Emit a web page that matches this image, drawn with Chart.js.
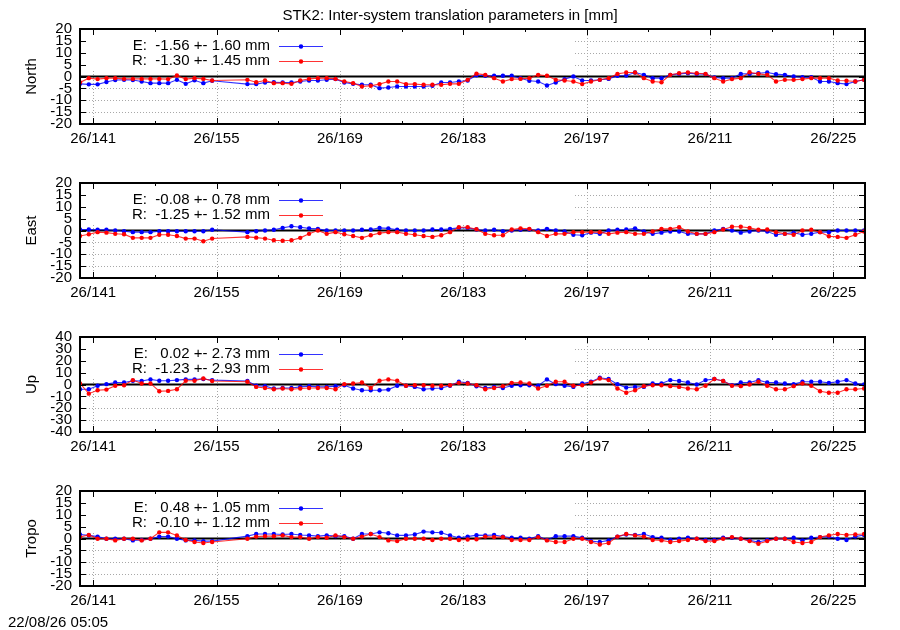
<!DOCTYPE html>
<html>
<head>
<meta charset="utf-8">
<title>STK2 inter-system translation</title>
<script src="https://cdn.jsdelivr.net/npm/chart.js@4/dist/chart.umd.min.js"></script>
<style>
  body { margin: 0; background: #fff; }
  #wrap { position: relative; width: 900px; height: 630px; background: #fff; overflow: hidden; }
  #wrap canvas { position: absolute; left: 0; }
  .txt { position: absolute; font: 15px "Liberation Sans", Arial, sans-serif; line-height: 17px; color: #000; white-space: pre; z-index: 2; }
</style>
</head>
<body>
<div id="wrap">
  <div class="txt" style="left:0; width:900px; text-align:center; top:6px">STK2: Inter-system translation parameters in [mm]</div>
  <canvas id="c0" width="900" height="154" style="top:0px"></canvas>
  <canvas id="c1" width="900" height="154" style="top:154px"></canvas>
  <canvas id="c2" width="900" height="154" style="top:308px"></canvas>
  <canvas id="c3" width="900" height="154" style="top:462px"></canvas>
  <div class="txt" style="left:8px; top:613px">22/08/26 05:05</div>
</div>
<script>
// day of year (2026), one solution per day, days 155-157 missing
const days = [139, 140, 141, 142, 143, 144, 145, 146, 147, 148, 149, 150, 151, 152, 153, 154,
  158, 159, 160, 161, 162, 163, 164, 165, 166, 167, 168, 169, 170, 171, 172, 173, 174, 175, 176, 177,
  178, 179, 180, 181, 182, 183, 184, 185, 186, 187, 188, 189, 190, 191, 192, 193, 194, 195, 196, 197,
  198, 199, 200, 201, 202, 203, 204, 205, 206, 207, 208, 209, 210, 211, 212, 213, 214, 215, 216, 217,
  218, 219, 220, 221, 222, 223, 224, 225, 226, 227, 228];

const northE = [-3.1, -3.3, -3.3, -2.3, -1.5, -1.4, -1.5, -2.1, -2.8, -2.8, -2.8, -1.4, -3.1, -1.6, -2.8, -1.8,
  -3.2, -3.2, -2.5, -2.4, -2.5, -2.5, -2.1, -1.7, -1.7, -1.4, -1.1, -2.5, -3.1, -3.5, -3.5, -4.9, -4.6, -4.2, -4.2, -4.2,
  -4.2, -3.9, -2.5, -2.5, -2.1, -1.7, 0.5, 0.3, 0.3, 0.3, 0.3, -0.7, -1.8, -2.1, -3.8, -2.5, -1.1, 0, -1.7, -1.7,
  -1.4, -1.0, 0.3, 0.4, 1.7, 0.7, -0.7, -0.7, 0.7, 1.1, 1.4, 1.1, 1.0, -0.4, -0.7, -0.7, 1.1, 1.1, 1.4, 1.7,
  1.0, 0.7, 0, -0.3, -0.3, -2.1, -2.1, -2.8, -3.2, -2.1, -1.4];
const northR = [-2.5, -0.7, -1.1, -0.7, -0.7, -1.0, -1.0, -1.0, -1.0, -1.0, -1.1, 0.4, -1.1, -0.7, -1.0, -1.7,
  -1.4, -2.4, -1.7, -2.8, -2.8, -3.1, -1.7, -1.0, -0.7, -0.7, -1.0, -2.1, -2.8, -4.2, -3.9, -3.2, -2.1, -2.1, -3.2, -3.2,
  -3.5, -3.5, -3.5, -3.1, -3.1, -1.4, 1.2, 0.7, -0.7, -2.1, -1.1, -1.0, -0.7, 0.7, 0.3, -1.4, -1.7, -2.1, -3.2, -2.1,
  -1.4, -0.7, 1.1, 1.7, 1.7, -0.7, -2.1, -2.4, 0.7, 1.4, 1.7, 1.4, 1.1, -0.7, -2.1, -1.1, -0.7, 1.8, 1.1, 0.7,
  -2.1, -1.4, -1.4, -1.1, -0.7, -0.7, -0.7, -1.7, -1.8, -2.1, -1.4];

const eastE = [0.4, 0.4, 0.3, 0.3, 0, -0.3, -0.7, -0.7, -0.7, -0.3, -0.3, -0.3, -0.3, -0.3, -0.3, 0.3,
  -0.7, -0.3, 0, 0.3, 1.1, 1.8, 1.4, 0.9, 0.7, 0, 0, 0, 0, 0.3, 0.4, 1.1, 0.9, 0.3, 0, 0,
  0, 0.4, 0.4, 0.7, 1.1, 1.1, 0.4, 0, 0.3, -0.3, 0, 0.3, 0.4, 0, 0.7, 0, -0.4, -1.8, -2.0, -0.9,
  -1.4, 0, 0.3, 0.4, 0.9, -0.4, -1.4, -0.9, -0.4, -0.4, -1.4, -1.4, -1.4, 0, 0.7, 0, -0.9, -0.4, 0, -0.4,
  -1.8, -1.4, -0.9, -1.8, -1.4, -0.7, -0.7, 0, 0, 0, 0];
const eastR = [-2.3, -1.6, -0.7, -0.9, -1.4, -1.6, -3.1, -3.1, -3.1, -1.8, -1.8, -2.3, -3.4, -3.4, -4.5, -3.4,
  -2.7, -3.0, -3.4, -4.1, -4.3, -4.1, -3.1, -1.4, 0, -1.4, -0.7, -1.6, -2.3, -3.1, -2.0, -1.1, -0.7, -0.7, -1.4, -1.8,
  -2.3, -2.7, -2.0, -0.7, 1.4, 1.4, 0.5, -1.4, -2.0, -2.0, 0.4, 0.9, 0.7, -0.7, -2.3, -1.4, -1.4, -0.7, -0.7, -0.7,
  -0.7, -1.4, -0.9, -0.7, -1.4, -1.4, -0.4, 0.7, 0.7, 1.4, -0.4, -1.4, -1.4, -0.7, 0.4, 1.6, 1.6, 1.1, 0.3, 0.4,
  -0.7, -1.4, -1.8, 0, 0.3, -0.7, -2.4, -2.7, -3.1, -1.8, -0.4];

const upE = [-4.0, -4.0, -1.1, 0.3, 1.7, 1.7, 3.1, 2.9, 4.3, 3.1, 3.1, 3.7, 4.3, 4.3, 4.6, 3.7,
  2.9, -1.1, -1.4, -3.4, -2.9, -2.9, -2.0, -1.4, -2.0, -2.0, -1.4, -0.6, -3.4, -4.9, -4.9, -4.9, -4.3, -1.1, -1.1, -2.0,
  -4.0, -3.4, -2.9, -1.1, 2.3, 1.4, -1.5, -2.9, -2.0, -2.9, -1.1, -0.6, -0.6, -1.1, 4.3, 0.3, -1.1, -2.0, 0.9, 2.3,
  5.7, 4.6, 0.3, -2.6, -2.0, -2.0, 0.9, 0.9, 3.7, 2.9, 1.7, 0, 3.7, 4.6, 2.9, -0.6, 1.7, 1.7, 3.7, 1.7,
  1.7, 0.9, 0.3, 2.3, 2.3, 2.3, 1.4, 2.3, 3.7, 0.9, 0];
const upR = [0.9, -7.7, -4.9, -4.3, -1.1, -0.6, 3.7, 0.9, 0.9, -5.7, -5.4, -4.0, 3.1, 3.1, 5.1, 2.9,
  2.3, -2.0, -2.9, -4.0, -3.4, -4.0, -3.4, -2.9, -2.9, -2.9, -4.0, 0.3, 0.9, 1.7, -2.9, 3.1, 4.3, 3.1, -1.1, -0.6,
  -0.6, -1.1, -1.1, -0.6, 1.4, 0.9, -0.6, -4.0, -2.9, -1.4, 1.4, 1.7, 0.9, -3.4, -1.1, 2.3, 2.3, -1.1, -0.6, 1.7,
  5.1, 3.7, -3.4, -6.9, -4.9, -1.4, -0.6, -0.6, -1.4, -2.0, -3.4, -4.0, -1.1, 4.6, 2.9, -1.1, -1.4, 0, 2.3, -1.1,
  -4.0, -4.0, -1.4, 0.9, -1.1, -5.7, -6.9, -6.9, -4.0, -4.0, -3.4];

const tropoE = [1.7, 1.3, 0.8, -0.1, -0.1, -0.1, -0.8, -0.6, -0.1, 0.8, 0.8, -0.1, -0.8, -0.8, -1.1, -1.1,
  1.0, 1.9, 1.9, 1.9, 1.7, 1.9, 1.5, 1.3, 1.0, 1.3, 1.0, 1.0, -0.1, 1.9, 1.9, 2.6, 2.2, 1.3, 1.3, 1.7,
  2.9, 2.6, 2.4, 1.3, 0.3, 0.8, 1.4, 1.3, 1.5, 0.8, 0.3, 0.3, -0.1, 1.0, -0.6, 1.0, 1.0, 1.0, 0.3, -1.1,
  -1.5, -0.8, 0.8, 1.7, 1.5, 1.9, 0.6, 0.3, -0.6, -0.1, 0.3, -0.1, -0.6, -0.6, 0.3, 0.3, -0.1, -0.8, -1.5, -0.6,
  -0.1, -0.1, 0.3, -0.8, 0.3, 0.6, 0.8, -0.1, -0.6, 0.8, 1.5];
const tropoR = [0.6, 1.5, -0.1, -0.1, -0.8, -0.1, -0.1, -0.8, -0.1, 2.6, 2.6, 1.3, -0.6, -1.5, -1.9, -1.5,
  -0.1, 0.8, 1.0, 1.0, 1.3, 0.6, 0.6, -0.1, 0.6, 0.3, 1.3, 0.6, -0.1, 0.8, 1.9, 0.6, -0.8, -1.1, -0.1, -0.1,
  -0.1, -0.6, -0.1, -0.1, -0.6, -0.4, -0.3, 0.8, 0.6, 0.6, -0.6, -0.6, -0.6, 0.6, -0.8, -1.5, -1.5, -0.1, -0.1, -1.5,
  -2.5, -1.9, 0.8, 1.9, 1.3, 0.8, -0.6, -0.8, -1.5, -1.1, -0.6, -0.1, -1.1, -1.1, -0.1, 0.6, -0.1, -1.1, -2.2, -1.1,
  -0.1, -0.1, -1.5, -1.9, -1.5, 0.6, 1.3, 1.9, 1.5, 1.7, 1.9];

const panelNames = ['North', 'East', 'Up', 'Tropo'];
const keyE = ['E:  -1.56 +- 1.60 mm', 'E:  -0.08 +- 0.78 mm', 'E:   0.02 +- 2.73 mm', 'E:   0.48 +- 1.05 mm'];
const keyR = ['R:  -1.30 +- 1.45 mm', 'R:  -1.25 +- 1.52 mm', 'R:  -1.23 +- 2.93 mm', 'R:  -0.10 +- 1.12 mm'];

const xTicks = [141, 148, 155, 162, 169, 176, 183, 190, 197, 204, 211, 218, 225];
const xMajor = [141, 155, 169, 183, 197, 211, 225];
const yTicks20 = [-20, -15, -10, -5, 0, 5, 10, 15, 20];
const yTicks40 = [-40, -30, -20, -10, 0, 10, 20, 30, 40];

const panels = [
  { e: northE, r: northR, ticks: yTicks20 },
  { e: eastE, r: eastR, ticks: yTicks20 },
  { e: upE, r: upR, ticks: yTicks40 },
  { e: tropoE, r: tropoR, ticks: yTicks20 }
];

const FONT = '"Liberation Sans", Arial, sans-serif';

// gnuplot-like frame: dotted grid, opaque key box, zero axis, inward ticks, key
const gnuFrame = {
  id: 'gnuFrame',
  beforeDatasetsDraw(chart) {
    const { ctx, chartArea: a, scales: { x, y } } = chart;
    const line = (x1, y1, x2, y2) => { ctx.beginPath(); ctx.moveTo(x1, y1); ctx.lineTo(x2, y2); ctx.stroke(); };
    ctx.save();
    ctx.strokeStyle = '#a8a8a8';
    ctx.lineWidth = 1;
    ctx.setLineDash([1, 2]);
    x.ticks.forEach(t => {
      if (!xMajor.includes(t.value)) return;
      const px = Math.round(x.getPixelForValue(t.value)) + 0.5;
      line(px, a.top, px, a.bottom);
    });
    y.ticks.forEach(t => {
      if (t.value === 0 || t.value === y.min || t.value === y.max) return;
      const py = Math.round(y.getPixelForValue(t.value)) + 0.5;
      line(a.left, py, a.right, py);
    });
    ctx.setLineDash([]);
    // the key box is opaque and hides the grid behind it
    ctx.fillStyle = '#fff';
    ctx.fillRect(a.left, a.top, 573 - a.left, 41);
    ctx.strokeStyle = '#000';
    ctx.lineWidth = 2;
    const y0 = y.getPixelForValue(0);
    line(a.left, y0, a.right, y0);
    ctx.restore();
  },
  afterDatasetsDraw(chart) {
    const { ctx, chartArea: a, scales: { x, y } } = chart;
    const line = (x1, y1, x2, y2) => { ctx.beginPath(); ctx.moveTo(x1, y1); ctx.lineTo(x2, y2); ctx.stroke(); };
    ctx.save();
    ctx.strokeStyle = '#000';
    ctx.lineWidth = 1;
    x.ticks.forEach(t => {
      const px = Math.round(x.getPixelForValue(t.value)) + 0.5;
      const len = xMajor.includes(t.value) ? 6 : 3;
      line(px, a.bottom, px, a.bottom - len);
      line(px, a.top, px, a.top + len);
    });
    y.ticks.forEach(t => {
      if (t.value === y.min || t.value === y.max) return;
      const py = Math.round(y.getPixelForValue(t.value)) + 0.5;
      line(a.left, py, a.left + 6, py);
      line(a.right, py, a.right - 6, py);
    });
    ctx.lineWidth = 2;
    ctx.strokeRect(a.left, a.top, a.right - a.left, a.bottom - a.top);

    // key
    ctx.font = '15px ' + FONT;
    ctx.textAlign = 'right';
    ctx.textBaseline = 'middle';
    chart.data.datasets.forEach((ds, i) => {
      const ky = a.top + 17 + 15 * i;
      ctx.fillStyle = '#000';
      ctx.fillText(ds.label, 270, ky);
      ctx.strokeStyle = ds.borderColor;
      ctx.lineWidth = 1.2;
      line(279, ky + 0.5, 323, ky + 0.5);
      ctx.fillStyle = ds.pointBackgroundColor;
      ctx.beginPath();
      ctx.arc(301, ky + 0.5, 2.2, 0, Math.PI * 2);
      ctx.fill();
    });
    ctx.restore();
  }
};

function series(vals) {
  // solutions are stamped at noon of each day
  return days.map((d, i) => ({ x: d + 0.5, y: vals[i] }));
}

panels.forEach((p, k) => {
  const lim = p.ticks[p.ticks.length - 1];
  new Chart(document.getElementById('c' + k), {
    type: 'line',
    data: {
      datasets: [
        {
          label: keyE[k], data: series(p.e), order: 1,
          borderColor: 'rgba(0,0,255,0.8)', borderWidth: 1.1,
          pointBackgroundColor: '#0000ff', pointBorderWidth: 0, pointRadius: 2.2,
          tension: 0
        },
        {
          label: keyR[k], data: series(p.r), order: 0,
          borderColor: 'rgba(255,0,0,0.8)', borderWidth: 1.1,
          pointBackgroundColor: '#ff0000', pointBorderWidth: 0, pointRadius: 2.2,
          tension: 0
        }
      ]
    },
    options: {
      responsive: false,
      animation: false,
      devicePixelRatio: 1,
      layout: { padding: { top: 29, right: 35, bottom: 0, left: 0 } },
      plugins: { legend: { display: false }, tooltip: { enabled: false } },
      scales: {
        x: {
          type: 'linear', min: 139.5, max: 228.6,
          afterBuildTicks: s => { s.ticks = xTicks.map(v => ({ value: v })); },
          afterFit: s => { s.height = 30; },
          grid: { display: false, drawTicks: false },
          border: { display: false },
          ticks: {
            autoSkip: false, maxRotation: 0, minRotation: 0, padding: 6,
            color: '#000', font: { family: FONT, size: 15 },
            callback: v => xMajor.includes(v) ? '26/' + v : ''
          }
        },
        y: {
          min: -lim, max: lim,
          afterBuildTicks: s => { s.ticks = p.ticks.map(v => ({ value: v })); },
          afterFit: s => { s.width = 80; },
          grid: { display: false, drawTicks: false },
          border: { display: false },
          ticks: { autoSkip: false, padding: 8, color: '#000', font: { family: FONT, size: 15 } },
          title: {
            display: true, text: panelNames[k], color: '#000',
            font: { family: FONT, size: 15 }, padding: { top: 23, bottom: 0 }
          }
        }
      }
    },
    plugins: [gnuFrame]
  });
});
</script>
</body>
</html>
